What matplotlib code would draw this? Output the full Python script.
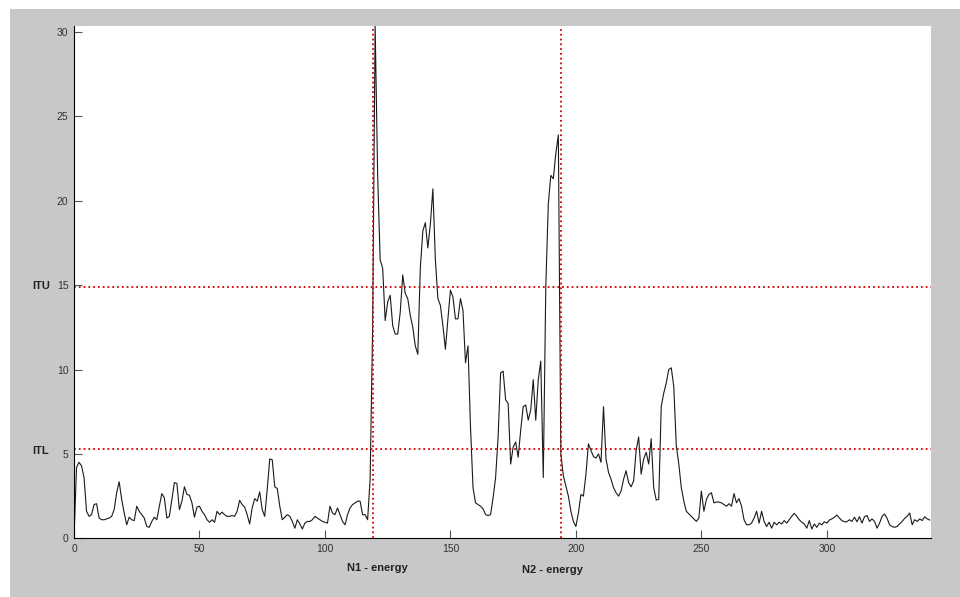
import matplotlib
matplotlib.use("Agg")
import matplotlib.pyplot as plt
from matplotlib.patches import Rectangle
from matplotlib.transforms import blended_transform_factory

# energy per frame (frame 0..341)
energy = [
    0.0, 4.2, 4.5, 4.3, 3.6, 1.6, 1.3, 1.4, 2.0, 2.05,
    1.2, 1.1, 1.1, 1.15, 1.2, 1.3, 1.7, 2.7, 3.35, 2.3,
    1.5, 0.8, 1.25, 1.1, 1.05, 1.9, 1.6, 1.4, 1.2, 0.7,
    0.65, 1.0, 1.25, 1.1, 1.9, 2.65, 2.4, 1.2, 1.3, 2.3,
    3.3, 3.25, 1.7, 2.2, 3.05, 2.6, 2.55, 2.1, 1.25, 1.85,
    1.9, 1.6, 1.4, 1.1, 0.95, 1.1, 0.95, 1.6, 1.4, 1.55,
    1.4, 1.3, 1.3, 1.35, 1.3, 1.6, 2.25, 2.0, 1.85, 1.4,
    0.85, 1.8, 2.35, 2.2, 2.75, 1.7, 1.3, 2.9, 4.7, 4.65,
    3.05, 2.95, 1.9, 1.1, 1.25, 1.4, 1.3, 1.0, 0.6, 1.1,
    0.85, 0.55, 0.9, 1.0, 1.0, 1.1, 1.3, 1.2, 1.1, 1.0,
    0.95, 0.9, 1.9, 1.5, 1.4, 1.8, 1.4, 1.0, 0.8, 1.4,
    1.8, 2.0, 2.1, 2.2, 2.2, 1.4, 1.4, 1.1, 3.5, 12.5,
    30.4, 21.5, 16.5, 16.0, 12.9, 14.0, 14.4, 12.6, 12.1, 12.1,
    13.4, 15.6, 14.5, 14.2, 13.2, 12.5, 11.4, 10.9, 16.0, 18.2,
    18.7, 17.2, 18.6, 20.7, 16.5, 14.2, 13.8, 12.6, 11.2, 13.0,
    14.7, 14.3, 13.0, 13.0, 14.2, 13.5, 10.4, 11.4, 6.6, 3.0,
    2.1, 2.0, 1.9, 1.75, 1.4, 1.35, 1.4, 2.4, 3.6, 6.0,
    9.8, 9.9, 8.2, 8.0, 4.4, 5.4, 5.7, 4.8, 6.4, 7.8,
    7.9, 7.0, 7.6, 9.4, 7.0, 9.4, 10.5, 3.6, 14.9, 19.8,
    21.5, 21.3, 22.8, 23.9, 5.0, 3.7, 3.1, 2.5, 1.6, 1.0,
    0.7, 1.5, 2.6, 2.5, 3.8, 5.6, 5.2, 4.85, 4.75, 5.0,
    4.5, 7.8, 4.7, 3.9, 3.5, 3.0, 2.7, 2.5, 2.8, 3.5,
    4.0, 3.3, 3.05, 3.4, 5.2, 6.0, 3.8, 4.7, 5.1, 4.4,
    5.9, 3.0, 2.27, 2.3, 7.8, 8.6, 9.2, 10.0, 10.1, 9.0,
    5.5, 4.4, 3.0, 2.2, 1.6, 1.45, 1.3, 1.15, 1.0, 1.2,
    2.8, 1.6, 2.3, 2.6, 2.7, 2.1, 2.15, 2.15, 2.1, 2.0,
    1.9, 2.05, 1.9, 2.65, 2.1, 2.35, 1.9, 1.1, 0.8, 0.8,
    0.9, 1.2, 1.6, 0.9, 1.6, 1.0, 0.7, 0.95, 0.6, 0.95,
    0.8, 0.95, 0.85, 1.05, 0.9, 1.1, 1.3, 1.48, 1.3, 1.1,
    0.95, 0.85, 0.6, 1.05, 0.55, 0.85, 0.65, 0.9, 0.8, 0.98,
    0.9, 1.08, 1.15, 1.25, 1.38, 1.2, 1.05, 0.98, 0.98, 1.1,
    1.0, 1.25, 0.98, 1.28, 0.9, 1.28, 1.35, 1.0, 1.15, 1.0,
    0.6, 0.9, 1.3, 1.44, 1.18, 0.8, 0.7, 0.65, 0.7, 0.85,
    1.0, 1.18, 1.3, 1.5, 0.8, 1.1, 1.0, 1.15, 1.05, 1.28,
    1.15, 1.08,
]
frames = list(range(len(energy)))

# thresholds and detected endpoints
itu = 14.9
itl = 5.3
n1 = 119
n2 = 194

xticks = [0, 50, 100, 150, 200, 250, 300]
yticks = [0, 5, 10, 15, 20, 25, 30]

plt.rcParams['font.family'] = ['Liberation Sans', 'DejaVu Sans']

fig = plt.figure(figsize=(9.6, 5.97), dpi=100, facecolor='white')
# gray MATLAB-like figure background, thin white strip at top/left
fig.patches.append(Rectangle((10 / 960, 0), 950 / 960, 588 / 597,
                             transform=fig.transFigure, facecolor='#c8c8c8',
                             edgecolor='none', zorder=-10))

ax = fig.add_axes([74 / 960, 58.7 / 597, 857 / 960, 512.3 / 597])
ax.set_facecolor('white')

ax.plot(frames, energy, color='#1a1a1a', lw=0.8)

ax.axhline(itu, color='#d40000', ls=':', lw=1.3)
ax.axhline(itl, color='#d40000', ls=':', lw=1.3)
ax.axvline(n1, color='#d40000', ls=':', lw=1.3)
ax.axvline(n2, color='#d40000', ls=':', lw=1.3)

ax.set_xlim(0, 341.5)
ax.set_ylim(0, 30.35)
ax.set_xticks(xticks)
ax.set_yticks(yticks)
ax.tick_params(direction='in', length=6, width=0.8, color='#555555',
               labelsize=7.5, labelcolor='#333333', pad=4)

for s in ['top', 'right']:
    ax.spines[s].set_visible(False)
for s in ['left', 'bottom']:
    ax.spines[s].set_color('black')
    ax.spines[s].set_linewidth(0.8)

# threshold names left of the y axis
ty = blended_transform_factory(fig.transFigure, ax.transData)
ax.text(41 / 960, 14.95, 'ITU', transform=ty, ha='center', va='center',
        fontsize=8, fontweight='bold', color='#222222')
ax.text(41 / 960, 5.2, 'ITL', transform=ty, ha='center', va='center',
        fontsize=8, fontweight='bold', color='#222222')

# endpoint names below the x axis
tx = blended_transform_factory(ax.transData, fig.transFigure)
ax.text(121, 1 - 568 / 597, 'N1 - energy', transform=tx, ha='center',
        va='center', fontsize=8, fontweight='bold', color='#222222')
ax.text(190.5, 1 - 570 / 597, 'N2 - energy', transform=tx, ha='center',
        va='center', fontsize=8, fontweight='bold', color='#222222')

fig.savefig('out.png', dpi=100, facecolor=fig.get_facecolor())
